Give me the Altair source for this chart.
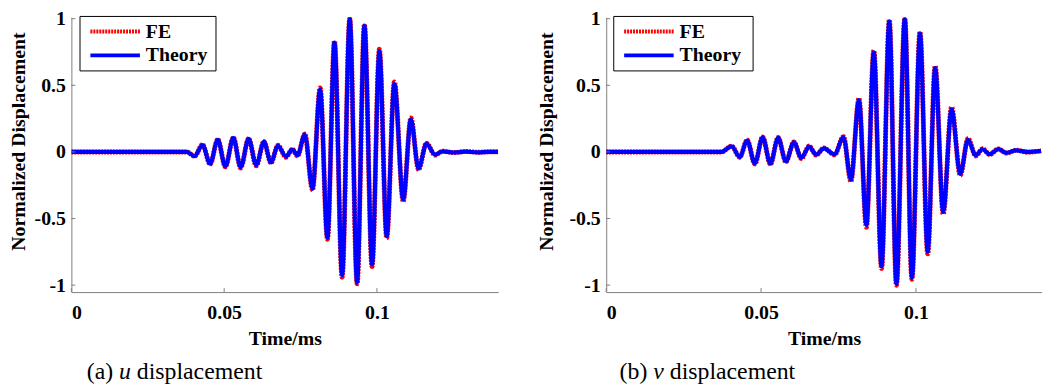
import altair as alt
import pandas as pd

# ---------------- data ----------------
series = ["FE", "Theory"]
x_ticks = [0, 0.05, 0.1]
y_ticks = [-1, -0.5, 0, 0.5, 1]

# (a) u displacement
u_time = [0, 0.0378, 0.0403, 0.0429, 0.0454, 0.0479, 0.0504, 0.0530, 0.0554, 0.0580,
          0.0605, 0.0630, 0.0653, 0.0676, 0.0702, 0.0723, 0.0740, 0.0764, 0.0789, 0.0814,
          0.0838, 0.0861, 0.0886, 0.0911, 0.0935, 0.0959, 0.0984, 0.1008, 0.1032, 0.1057,
          0.1086, 0.1111, 0.1136, 0.1162, 0.1190, 0.1215, 0.1250, 0.1290, 0.1330, 0.1370,
          0.1397]
u_theory = [0, 0, -0.031, 0.052, -0.088, 0.091, -0.108, 0.105, -0.115, 0.098,
            -0.099, 0.075, -0.078, 0.046, -0.035, 0.017, -0.025, 0.13, -0.277, 0.47,
            -0.645, 0.82, -0.926, 1.0, -0.98, 0.948, -0.845, 0.757, -0.632, 0.512,
            -0.358, 0.245, -0.125, 0.062, -0.02, 0.004, -0.004, 0.002, -0.003, 0.001,
            0.0]
u_fe = [0, 0, -0.033, 0.055, -0.092, 0.094, -0.112, 0.108, -0.12, 0.1,
        -0.104, 0.079, -0.083, 0.05, -0.04, 0.02, -0.03, 0.135, -0.285, 0.48,
        -0.655, 0.83, -0.94, 1.0, -0.99, 0.955, -0.86, 0.77, -0.645, 0.525,
        -0.37, 0.255, -0.132, 0.066, -0.024, 0.006, -0.005, 0.003, -0.002, 0.002,
        0.0]

# (b) v displacement
v_time = [0, 0.0372, 0.0405, 0.0431, 0.0455, 0.0480, 0.0505, 0.0530, 0.0555, 0.0580,
          0.0606, 0.0630, 0.0655, 0.0678, 0.0703, 0.0737, 0.0766, 0.0790, 0.0816, 0.0840,
          0.0864, 0.0889, 0.0914, 0.0937, 0.0964, 0.0987, 0.1013, 0.1038, 0.1062, 0.1088,
          0.1115, 0.1143, 0.1168, 0.1193, 0.1215, 0.1238, 0.1266, 0.1292, 0.1324, 0.1360,
          0.1404]
v_theory = [0, 0, 0.042, -0.038, 0.086, -0.086, 0.11, -0.088, 0.105, -0.071,
            0.072, -0.045, 0.04, -0.02, 0.027, -0.018, 0.11, -0.21, 0.39, -0.55,
            0.748, -0.86, 0.98, -0.99, 1.0, -0.945, 0.89, -0.75, 0.63, -0.45,
            0.32, -0.165, 0.09, -0.025, 0.02, -0.017, 0.021, -0.007, 0.012, 0.0,
            0.008]
v_fe = [0, 0, 0.044, -0.04, 0.089, -0.09, 0.113, -0.092, 0.108, -0.075,
        0.075, -0.05, 0.044, -0.024, 0.03, -0.022, 0.115, -0.22, 0.4, -0.565,
        0.76, -0.875, 0.99, -1.0, 1.0, -0.955, 0.9, -0.765, 0.645, -0.465,
        0.335, -0.175, 0.1, -0.03, 0.024, -0.02, 0.023, -0.009, 0.013, -0.002,
        0.008]

# ---------------- styling ----------------
FONT = "Liberation Serif"
RED = "#ff0000"
BLUE = "#0000ff"
AXIS_GREY = "#808080"
H = 277.5
LABEL_EXPR = "replace(format(datum.value, '~g'), '\u2212', '-')"


def one_row():
    return alt.Chart(alt.Data(values=[{"k": 1}]))


def panel(time, theory, fe, width, xmax, ytitle_x, cap_prefix, cap_var, cap_var_w,
          cap_x, leg_x0, leg_x1):
    df = pd.DataFrame({
        "t": list(time) + list(time),
        "y": list(fe) + list(theory),
        "series": [series[0]] * len(time) + [series[1]] * len(time),
    })
    xs = alt.Scale(domain=[0, xmax], nice=False, zero=False)
    ys = alt.Scale(domain=[-1.052, 1.011], nice=False, zero=False)
    xax = alt.Axis(values=x_ticks, title="Time/ms", labelExpr=LABEL_EXPR,
                   labelPadding=11, titlePadding=5.5, ticks=False, grid=False)
    yax = alt.Axis(values=y_ticks, title="Normalized Displacement", labelExpr=LABEL_EXPR,
                   labelPadding=6, ticks=False, grid=False, titleX=ytitle_x,
                   titleY=125, titleBaseline="alphabetic", titleAngle=-90)
    X = alt.X("t:Q", scale=xs, axis=xax)
    Y = alt.Y("y:Q", scale=ys, axis=yax)

    base = alt.Chart(df)
    fe_line = base.transform_filter(alt.datum.series == series[0]).mark_line(
        color=RED, strokeWidth=5, strokeDash=[2, 1], interpolate="monotone", clip=True
    ).encode(x=X, y=Y)
    th_line = base.transform_filter(alt.datum.series == series[1]).mark_line(
        color=BLUE, strokeWidth=4.2, interpolate="monotone", clip=True
    ).encode(x=X, y=Y)

    xt = alt.Chart(pd.DataFrame({"t": x_ticks})).mark_rule(
        color=AXIS_GREY, strokeWidth=1
    ).encode(x=X, y=alt.value(H), y2=alt.value(H - 4))
    yt = alt.Chart(pd.DataFrame({"y": y_ticks})).mark_rule(
        color=AXIS_GREY, strokeWidth=1
    ).encode(y=Y, x=alt.value(0), x2=alt.value(4))

    # legend (drawn box)
    ly0 = -0.8
    box = one_row().mark_rect(fill="white", stroke="black", strokeWidth=1).encode(
        x=alt.value(leg_x0), x2=alt.value(leg_x1), y=alt.value(ly0), y2=alt.value(ly0 + 55))
    l_fe = one_row().mark_rule(color=RED, strokeWidth=4, strokeDash=[2, 1]).encode(
        x=alt.value(leg_x0 + 10.5), x2=alt.value(leg_x0 + 60.5), y=alt.value(ly0 + 15.3))
    l_th = one_row().mark_rule(color=BLUE, strokeWidth=4).encode(
        x=alt.value(leg_x0 + 10.5), x2=alt.value(leg_x0 + 60.5), y=alt.value(ly0 + 39.3))
    t_fe = one_row().mark_text(text=series[0], font=FONT, fontSize=20, fontWeight="bold",
                               align="left", baseline="middle", color="black").encode(
        x=alt.value(leg_x0 + 66.5), y=alt.value(ly0 + 15.3))
    t_th = one_row().mark_text(text=series[1], font=FONT, fontSize=20, fontWeight="bold",
                               align="left", baseline="middle", color="black").encode(
        x=alt.value(leg_x0 + 66.5), y=alt.value(ly0 + 39.3))

    # caption below the panel
    cap_y = 365.5
    c1 = one_row().mark_text(text=cap_prefix, font=FONT, fontSize=24, align="left",
                             baseline="alphabetic", color="black").encode(
        x=alt.value(cap_x), y=alt.value(cap_y))
    pre_w = 32.6 if cap_prefix.startswith("(a)") else 34.0
    c2 = one_row().mark_text(text=cap_var, font=FONT, fontSize=24, fontStyle="italic",
                             align="left", baseline="alphabetic", color="black").encode(
        x=alt.value(cap_x + pre_w), y=alt.value(cap_y))
    c3 = one_row().mark_text(text="displacement", font=FONT, fontSize=24, align="left",
                             baseline="alphabetic", color="black").encode(
        x=alt.value(cap_x + pre_w + cap_var_w + 6.0), y=alt.value(cap_y))

    return alt.layer(fe_line, th_line, xt, yt, box, l_fe, l_th, t_fe, t_th, c1, c2, c3
                     ).properties(width=width, height=H)


p1 = panel(u_time, u_theory, u_fe, 431, 0.1397, -47, "(a)", "u", 12.0, 15.5, 8.7, 146)
p2 = panel(v_time, v_theory, v_fe, 440, 0.1407, -54, "(b)", "v", 10.7, 13.5, 7.6, 148.3)

chart = alt.hconcat(p1, p2, spacing=38).properties(
    padding={"left": 0, "top": -1.5, "right": 0, "bottom": 0}
).configure_view(stroke=None).configure_axis(
    domainColor=AXIS_GREY, domainWidth=1,
    labelFont=FONT, labelFontSize=20, labelFontWeight="bold", labelColor="black",
    titleFont=FONT, titleFontSize=20, titleFontWeight="bold", titleColor="black",
)

chart.save("out.html", embed_options={"renderer": "svg", "actions": False})
